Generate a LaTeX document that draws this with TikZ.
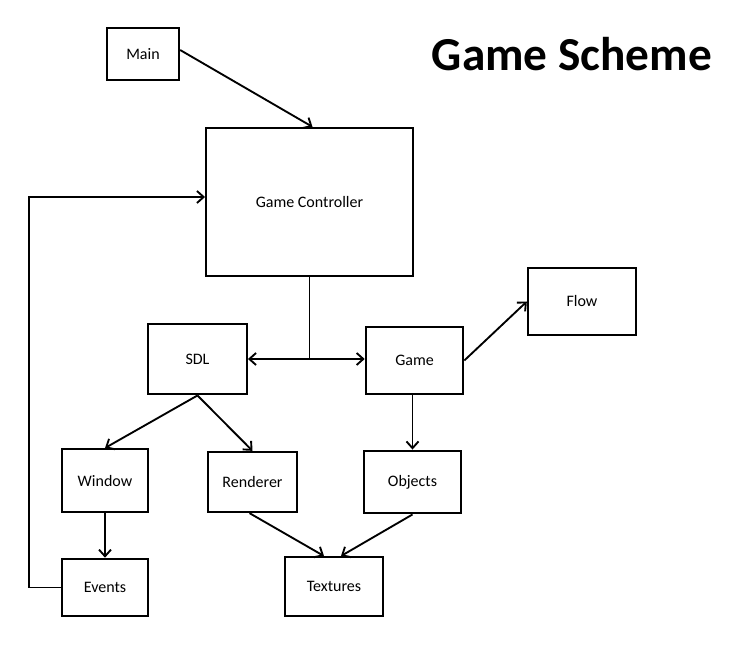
\documentclass[tikz,border=0pt]{standalone}
\usepackage{fontspec}
\setmainfont{Carlito}
\usetikzlibrary{calc,arrows.meta}

\begin{document}
\begin{tikzpicture}[x=0.75pt,y=-0.75pt,line width=1.4pt,
    block/.style={draw,line width=1.7pt,inner sep=0pt,font=\fontsize{12}{14}\selectfont},
    >={Straight Barb[length=5pt,width=9pt]}]
  \useasboundingbox (0,0) rectangle (747,649);

  \node[anchor=base,font=\fontsize{35.5}{40}\bfseries] (title) at (572,71) {Game Scheme};

  \node[block,minimum width=54pt,minimum height=39pt] (main) at (143,54) {Main};
  \node[block,minimum width=155pt,minimum height=111pt] (gc) at (309.5,202) {Game Controller};
  \node[block,minimum width=74pt,minimum height=53pt] (sdl) at (197.5,359) {SDL};
  \node[block,minimum width=73pt,minimum height=50pt] (game) at (414.5,360.5) {Game};
  \node[block,minimum width=81pt,minimum height=50pt] (flow) at (582,301.5) {Flow};
  \node[block,minimum width=64pt,minimum height=47pt] (window) at (105,480.5) {Window};
  \node[block,minimum width=67pt,minimum height=45pt] (renderer) at (252.5,482) {Renderer};
  \node[block,minimum width=73pt,minimum height=47pt] (objects) at (412.5,482) {Objects};
  \node[block,minimum width=64pt,minimum height=43pt] (events) at (105,587.5) {Events};
  \node[block,minimum width=74pt,minimum height=44pt] (textures) at (334,586.5) {Textures};

  \draw[->] ($(main.east)+(0,-4)$) -- ($(gc.north)+(3,0)$);
  \draw (gc.south) -- (gc.south |- sdl.east);
  \draw[<->] (sdl.east) -- (game.west |- sdl.east);
  \draw[->] (game.east) -- (flow.west);
  \draw[->] (objects.north |- game.south) -- (objects.north);
  \draw[->] (sdl.south) -- (window.north);
  \draw[->] (sdl.south) -- (renderer.north);
  \draw[->] (window.south) -- (events.north);
  \draw[->] ($(renderer.south)+(-3,0)$) -- ($(textures.north)+(-10,0)$);
  \draw[->] (objects.south) -- ($(textures.north)+(7,0)$);

  % events back to the controller
  \coordinate (back) at (29,197);
  \draw[->] (events.west) -| (back) -- (back -| gc.west);
\end{tikzpicture}
\end{document}
